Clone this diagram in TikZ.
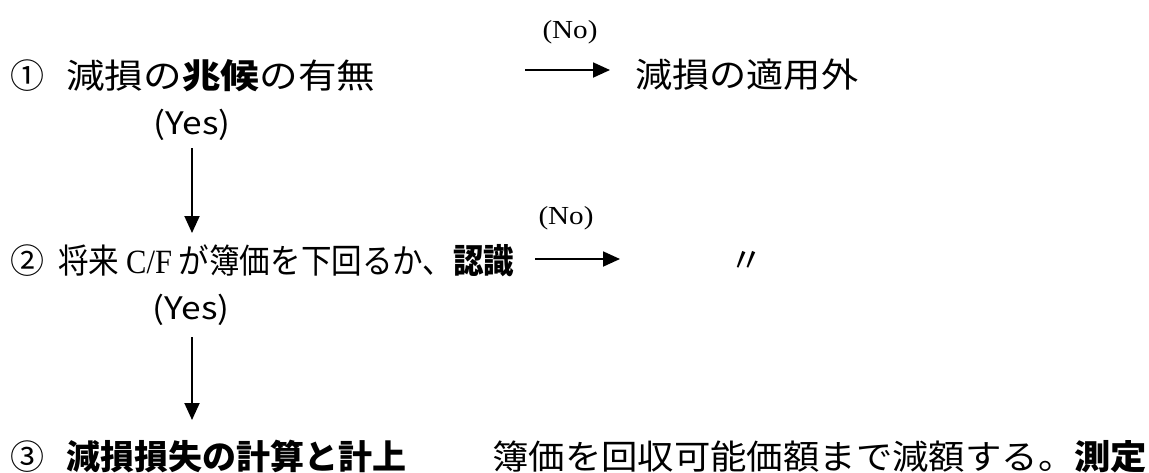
\documentclass[tikz,border=0pt]{standalone}
\usepackage{fontspec}
\usepackage{graphicx}
\usetikzlibrary{arrows.meta}
\setmainfont{Noto Sans CJK JP}
\newfontfamily\latinserif{Liberation Serif}
\newcommand{\fitw}[2]{\resizebox{#1}{\height}{#2}}

\begin{document}
\begin{tikzpicture}[x=0.75pt,y=-0.75pt,
    jp/.style={inner sep=0pt,font=\fontsize{25.5pt}{30pt}\selectfont,text height=22.4pt,text depth=3.1pt},
    nolabel/.style={inner sep=0pt,font=\fontsize{19.5pt}{22pt}\latinserif},
    yeslabel/.style={inner sep=0pt,font=\fontsize{23.25pt}{26pt}\selectfont},
    flow/.style={-{Triangle[length=12.75pt,width=11.25pt]},line width=1.4pt}]
  \useasboundingbox (0,0) rectangle (1149,472);

  % step 1
  \node[jp] (num1) at (28,76) {①};
  \node[jp,anchor=west] (step1) at (66,76) {\fitw{231.75pt}{減損の\textbf{兆候}の有無}};
  \node[nolabel] (no1) at (570,32) {\fitw{41.25pt}{(No)}};
  \node[jp,anchor=west] (out1) at (635,75) {\fitw{167.25pt}{減損の適用外}};
  \node[yeslabel] (yes1) at (192,125) {\fitw{57.75pt}{(Yes)}};

  % step 2
  \node[jp] (num2) at (28,261) {②};
  \node[jp,anchor=west] (step2) at (58,261) {\fitw{342pt}{将来 {\latinserif C/F} が簿価を下回るか、\textbf{認識}}};
  \node[nolabel] (no2) at (566,218) {\fitw{41.25pt}{(No)}};
  \node[jp] (out2) at (746,260) {〃};
  \node[yeslabel] (yes2) at (191,310) {\fitw{57.75pt}{(Yes)}};

  % step 3
  \node[jp] (num3) at (28,457) {③};
  \node[jp,anchor=west] (step3) at (66,457) {\fitw{255pt}{\textbf{減損損失の計算と計上}}};
  \node[jp,anchor=west] (note3) at (492,457) {\fitw{491.25pt}{簿価を回収可能価額まで減額する。\textbf{測定}}};

  % arrows
  \coordinate (a1s) at (525,70);
  \coordinate (a1e) at (610,70);
  \coordinate (a2s) at (535,259);
  \coordinate (a2e) at (620,259);
  \coordinate (d1s) at (192,148);
  \coordinate (d1e) at (192,233);
  \coordinate (d2s) at (192,337);
  \coordinate (d2e) at (192,420);
  \draw[flow] (a1s) -- (a1e);
  \draw[flow] (a2s) -- (a2e);
  \draw[flow] (d1s) -- (d1e);
  \draw[flow] (d2s) -- (d2e);
\end{tikzpicture}
\end{document}
